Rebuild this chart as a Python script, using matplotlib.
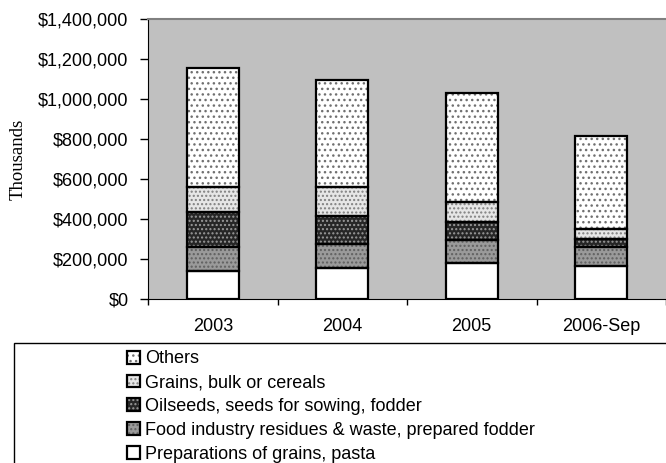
import matplotlib
matplotlib.use("Agg")
from matplotlib import pyplot as plt
from matplotlib.patches import Patch, Rectangle
from matplotlib.ticker import FuncFormatter
import numpy as np

plt.rcParams['font.family'] = ['Liberation Sans', 'DejaVu Sans']
plt.rcParams['hatch.linewidth'] = 1.0

years = ["2003", "2004", "2005", "2006-Sep"]
prep = [141000, 153000, 181000, 165000]
food = [117000, 122000, 114000, 95000]
oilseeds = [178000, 141000, 90000, 38000]
grains = [123000, 143000, 98000, 53000]
others = [597000, 537000, 549000, 464000]

series = [
    ("Preparations of grains, pasta", prep, "white", None, "white"),
    ("Food industry residues & waste, prepared fodder", food, "#9a9a9a", "....", "#606060"),
    ("Oilseeds, seeds for sowing, fodder", oilseeds, "#262626", "....", "#9a9a9a"),
    ("Grains, bulk or cereals", grains, "#e6e6e6", "....", "#808080"),
    ("Others", others, "white", "...", "#707070"),
]

fig = plt.figure(figsize=(6.66, 4.63), dpi=100)
ax = fig.add_axes([148 / 666, 1 - 299 / 463, 1 - 148 / 666, 280 / 463])
ax.set_facecolor("#c0c0c0")

x = np.arange(len(years))
bottom = np.zeros(len(years))
handles = []
for name, vals, fc, hatch, hc in series:
    ax.bar(x, vals, 0.4, bottom=bottom, color=fc, hatch=hatch, edgecolor=hc, linewidth=0, zorder=2)
    ax.bar(x, vals, 0.4, bottom=bottom, fill=False, edgecolor="black", linewidth=1.6, zorder=3)
    bottom += np.array(vals)
    h1 = Patch(facecolor=fc, hatch=hatch, edgecolor=hc, linewidth=0)
    h2 = Patch(fill=False, edgecolor="black", linewidth=1.6)
    handles.append(((h1, h2), name))

ax.set_xlim(-0.5, 3.5)
ax.set_ylim(0, 1400000)
ax.set_yticks(np.arange(0, 1400001, 200000))
ax.yaxis.set_major_formatter(FuncFormatter(lambda v, p: "${:,.0f}".format(v)))
ax.set_xticks(x)
ax.set_xticklabels(years)
ax.set_xticks(np.arange(-0.5, 3.6, 1), minor=True)
ax.tick_params(axis="x", which="major", length=0, pad=14, labelsize=13)
ax.tick_params(axis="x", which="minor", length=4.5, width=1, direction="out")
ax.tick_params(axis="y", length=6, width=1, pad=8, labelsize=13)

ax.spines["left"].set_color("black")
ax.spines["bottom"].set_color("black")
ax.spines["top"].set_color("#808080")
ax.spines["top"].set_linewidth(1.5)
ax.spines["right"].set_visible(False)

fig.text(18 / 666, 1 - 159 / 463, "Thousands", rotation=90, ha="center", va="center",
         fontsize=13.5, family=["Liberation Serif", "DejaVu Serif"])

# legend frame runs past the right and bottom edges
fig.patches.append(Rectangle((14 / 666, -0.1), 1.1, 1 - 343 / 463 + 0.1, transform=fig.transFigure,
                             fill=False, edgecolor="black", linewidth=1))
hs = [h for h, n in handles[::-1]]
ns = [n for h, n in handles[::-1]]
fig.legend(hs, ns, loc="upper left", bbox_to_anchor=(122 / 666, 1 - 345 / 463), frameon=False,
           fontsize=13, handlelength=0.72, handleheight=0.72, handletextpad=0.25,
           labelspacing=0.38, borderaxespad=0, borderpad=0.3)

fig.savefig("out.png", dpi=100)
